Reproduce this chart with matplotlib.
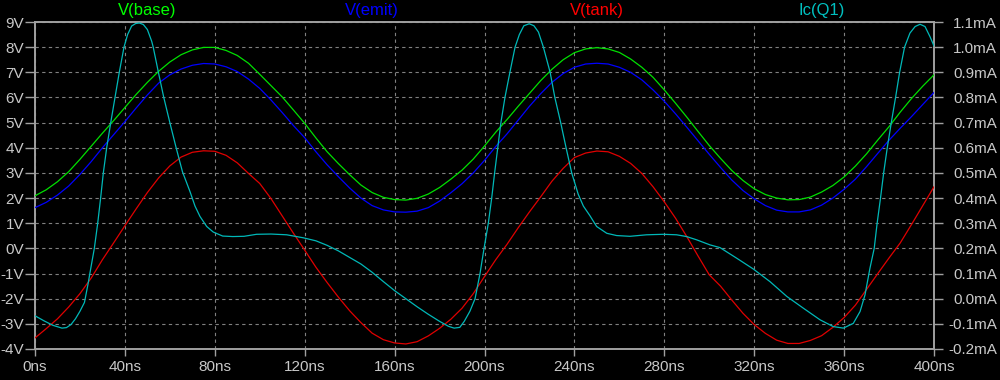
import matplotlib
matplotlib.use("Agg")
import matplotlib.pyplot as plt

plt.rcParams['font.family'] = ['Liberation Sans', 'DejaVu Sans']

# ---------------- data ----------------
t_v = list(range(0, 401, 5))  # ns

v_base = [2.09, 2.33, 2.65, 3.05, 3.54, 4.06, 4.58, 5.08, 5.60, 6.12,
          6.60, 7.04, 7.41, 7.70, 7.89, 7.99, 7.99, 7.87, 7.67, 7.36,
          6.92, 6.47, 6.02, 5.50, 4.97, 4.39, 3.84, 3.37, 2.93, 2.52,
          2.22, 2.03, 1.94, 1.92, 1.99, 2.16, 2.42, 2.75, 3.11, 3.55,
          4.07, 4.62, 5.12, 5.65, 6.16, 6.67, 7.12, 7.50, 7.78, 7.93,
          7.98, 7.93, 7.79, 7.53, 7.20, 6.80, 6.30, 5.77, 5.22, 4.65,
          4.09, 3.58, 3.10, 2.70, 2.37, 2.14, 2.00, 1.93, 1.94, 2.04,
          2.24, 2.50, 2.84, 3.27, 3.76, 4.31, 4.84, 5.42, 5.96, 6.45,
          6.90]

v_emit = [1.62, 1.83, 2.12, 2.48, 2.94, 3.45, 4.00, 4.52, 5.04, 5.58,
          6.10, 6.57, 6.90, 7.13, 7.28, 7.35, 7.33, 7.22, 7.03, 6.73,
          6.36, 5.90, 5.40, 4.88, 4.40, 3.84, 3.32, 2.85, 2.40, 2.00,
          1.70, 1.53, 1.45, 1.44, 1.48, 1.62, 1.88, 2.21, 2.57, 3.00,
          3.50, 4.05, 4.55, 5.10, 5.65, 6.15, 6.60, 6.95, 7.20, 7.33,
          7.36, 7.33, 7.20, 7.00, 6.70, 6.30, 5.85, 5.35, 4.82, 4.28,
          3.74, 3.22, 2.72, 2.30, 1.97, 1.70, 1.52, 1.45, 1.45, 1.53,
          1.72, 2.00, 2.35, 2.75, 3.25, 3.78, 4.30, 4.78, 5.24, 5.72,
          6.20]

v_tank = [-3.56, -3.19, -2.80, -2.33, -1.80, -1.18, -0.45, 0.22, 0.90, 1.57,
          2.22, 2.80, 3.28, 3.63, 3.82, 3.88, 3.86, 3.70, 3.40, 2.98,
          2.58, 1.98, 1.29, 0.60, -0.07, -0.75, -1.36, -1.94, -2.48, -2.95,
          -3.37, -3.63, -3.76, -3.80, -3.71, -3.48, -3.18, -2.82, -2.38, -1.80,
          -1.12, -0.45, 0.16, 0.82, 1.45, 2.05, 2.67, 3.18, 3.61, 3.79,
          3.87, 3.84, 3.66, 3.38, 2.98, 2.45, 1.85, 1.20, 0.47, -0.30,
          -1.05, -1.50, -2.05, -2.58, -3.03, -3.38, -3.65, -3.78, -3.78, -3.66,
          -3.47, -3.14, -2.75, -2.26, -1.63, -1.00, -0.38, 0.22, 0.95, 1.70,
          2.45]

t_ic = [0, 4, 8, 12, 14, 16, 18, 20, 22, 23.7,
        24.4, 26.4, 27.9, 29.2, 30.4, 31.9, 33.7, 35.6, 37.5, 39.6,
        41.2, 43.0, 44.8, 46.4, 48.2, 50.0, 51.9, 52.6, 54.9, 57.3,
        60.0, 62.8, 65.6, 69.0, 71.2, 73.4, 76.4, 79.3, 83.5, 88.0,
        93.0, 98.6, 105.0, 112.0, 119.4, 125, 130, 135, 140, 145,
        150, 155, 160, 165, 170, 175, 180, 184, 186.5, 189,
        191, 193.5, 195.8, 198.0, 199.8, 201.7, 203.2, 204.5, 205.9, 207.3,
        209.1, 211.3, 213.6, 215.5, 217.5, 219.9, 222.0, 224.0, 226.2, 229.2,
        231.3, 233.9, 236.3, 238.8, 241.7, 244.0, 246.9, 249.9, 254.4, 258.8,
        264.7, 272.1, 279.6, 285.5, 289.9, 294.4, 300.3, 304.8, 312.2, 319.6,
        327.0, 334.5, 341.9, 349.3, 355.2, 359.7, 364.1, 367.1, 369.3, 371.5,
        373.4, 374.7, 376.2, 377.6, 379.2, 381.0, 382.9, 384.7, 386.9, 389.3,
        391.6, 393.8, 396.0, 398.2, 400.0]

ic_q1 = [-0.068, -0.088, -0.106, -0.117, -0.115, -0.103, -0.080, -0.050, -0.015, 0.063,
         0.100, 0.200, 0.300, 0.400, 0.500, 0.600, 0.700, 0.800, 0.900, 1.000,
         1.050, 1.084, 1.094, 1.096, 1.090, 1.070, 1.024, 1.000, 0.900, 0.800,
         0.700, 0.600, 0.505, 0.425, 0.368, 0.327, 0.287, 0.265, 0.249, 0.247,
         0.248, 0.256, 0.257, 0.254, 0.242, 0.230, 0.212, 0.190, 0.164, 0.138,
         0.105, 0.068, 0.032, 0.000, -0.032, -0.062, -0.090, -0.110, -0.117, -0.114,
         -0.090, -0.050, 0.000, 0.100, 0.200, 0.300, 0.400, 0.500, 0.600, 0.700,
         0.800, 0.900, 1.000, 1.050, 1.085, 1.093, 1.085, 1.060, 1.000, 0.900,
         0.800, 0.700, 0.600, 0.500, 0.415, 0.368, 0.330, 0.287, 0.260, 0.251,
         0.248, 0.254, 0.256, 0.254, 0.247, 0.234, 0.214, 0.203, 0.161, 0.118,
         0.068, 0.009, -0.038, -0.084, -0.111, -0.117, -0.098, -0.051, 0.015, 0.121,
         0.200, 0.300, 0.400, 0.500, 0.600, 0.700, 0.800, 0.900, 1.000, 1.056,
         1.082, 1.091, 1.082, 1.042, 1.005]

x_ticks = [0, 40, 80, 120, 160, 200, 240, 280, 320, 360, 400]
x_labels = ["0ns", "40ns", "80ns", "120ns", "160ns", "200ns", "240ns",
            "280ns", "320ns", "360ns", "400ns"]
v_ticks = [-4, -3, -2, -1, 0, 1, 2, 3, 4, 5, 6, 7, 8, 9]
v_labels = ["-4V", "-3V", "-2V", "-1V", "0V", "1V", "2V", "3V", "4V",
            "5V", "6V", "7V", "8V", "9V"]
i_ticks = [-0.2, -0.1, 0.0, 0.1, 0.2, 0.3, 0.4, 0.5, 0.6, 0.7, 0.8, 0.9, 1.0, 1.1]
i_labels = ["-0.2mA", "-0.1mA", "0.0mA", "0.1mA", "0.2mA", "0.3mA", "0.4mA",
            "0.5mA", "0.6mA", "0.7mA", "0.8mA", "0.9mA", "1.0mA", "1.1mA"]

trace_names = ["V(base)", "V(emit)", "V(tank)", "Ic(Q1)"]
trace_colors = ["#00e000", "#0000ff", "#e00000", "#00b8b8"]
title_colors = ["#00ff00", "#0000ff", "#ff0000", "#00c0c0"]

# ---------------- figure ----------------
fig = plt.figure(figsize=(10, 3.8), dpi=100, facecolor="black")
ax = fig.add_axes([0.035, 0.0816, 0.899, 0.8605])
ax.set_facecolor("black")

frame_col = "#a0a0a0"
label_col = "#c8c8c8"
tick_fs = 11

ax.plot(t_v, v_base, color=trace_colors[0], lw=0.9, zorder=3)
ax.plot(t_v, v_emit, color=trace_colors[1], lw=0.9, zorder=3)
ax.plot(t_v, v_tank, color=trace_colors[2], lw=0.9, zorder=3)

ax.set_xlim(0, 400)
ax.set_ylim(-4, 9)
ax.set_xticks(x_ticks)
ax.set_xticklabels(x_labels)
ax.set_yticks(v_ticks)
ax.set_yticklabels(v_labels)
ax.grid(True, color="#808080", linestyle=(0, (3, 3)), linewidth=0.8, zorder=1)
ax.set_axisbelow(True)

for s in ax.spines.values():
    s.set_color(frame_col)
    s.set_linewidth(1.4)

ax.tick_params(axis="y", direction="out", length=7, width=1.0, color=frame_col,
               labelcolor=label_col, labelsize=tick_fs, pad=0.8)
ax.tick_params(axis="x", direction="out", length=5, width=1.0, color=frame_col,
               labelcolor=label_col, labelsize=tick_fs, pad=3)

ax2 = ax.twinx()
ax2.patch.set_visible(False)
ax2.plot(t_ic, ic_q1, color=trace_colors[3], lw=0.9, zorder=4)
ax2.set_ylim(-0.2, 1.1)
ax2.set_yticks(i_ticks)
ax2.set_yticklabels(i_labels)
for s in ax2.spines.values():
    s.set_visible(False)
# labels right-aligned near the right edge of the figure
ax2.tick_params(axis="y", direction="out", length=6.5, width=1.0, color=frame_col,
                labelcolor=label_col, labelsize=tick_fs, pad=39)
for lbl in ax2.get_yticklabels():
    lbl.set_horizontalalignment("right")

for i, (name, col) in enumerate(zip(trace_names, title_colors)):
    ax.text(0.125 + 0.25 * i, 1.035, name, transform=ax.transAxes,
            ha="center", va="center", color=col, fontsize=12)

fig.savefig("out.png", dpi=100, facecolor="black")
